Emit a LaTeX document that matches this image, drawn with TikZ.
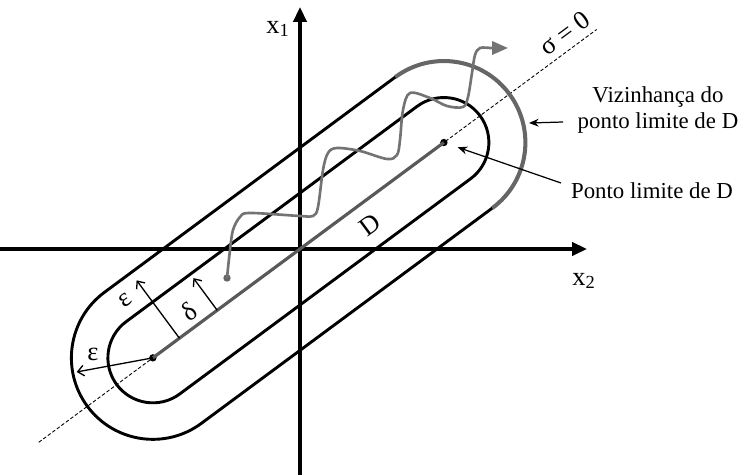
\documentclass[tikz,border=0pt]{standalone}
\usepackage{fontspec}
\setmainfont{Liberation Serif}
\usetikzlibrary{arrows.meta,calc}

\begin{document}
\begin{tikzpicture}[
    every node/.style={font=\fontsize{15}{17}\selectfont},
    axis/.style={line width=2pt, -{Triangle[length=8.5pt,width=7.5pt]}},
    band/.style={line width=1.65pt},
    nbhd/.style={line width=2.3pt, black!60},
    seg/.style={line width=1.8pt, black!65},
    traj/.style={line width=1.5pt, black!55, -{Triangle[length=9pt,width=7.5pt]}},
    dot/.style={circle, fill=#1, inner sep=0pt, minimum size=4.2pt},
    dot/.default=black,
    ptr/.style={-{Stealth[length=5.5pt,width=4.5pt]}, line width=0.7pt},
    dim/.style={-{Straight Barb[length=3.5pt,width=6pt]}, line width=0.75pt},
    lbl/.style={font=\fontsize{13}{14.5}\selectfont, align=center, inner sep=1pt},
]
\useasboundingbox (-6,-4.52) rectangle (8.88,4.98);
\coordinate (xl) at (-6,0);
\coordinate (xr) at (5.74,0);
\coordinate (yb) at (0,-4.52);
\coordinate (yt) at (0,4.84);
\draw[axis] (xl) -- (xr);
\draw[axis] (yb) -- (yt);
\node (x1lbl) at (-0.44,4.4) {x\textsubscript{1}};
\node (x2lbl) at (5.68,-0.64) {x\textsubscript{2}};
\begin{scope}[rotate=36.5]
\coordinate (sl) at (-6.5,0);
\coordinate (sr) at (7.38,0);
\draw[dash pattern=on 2pt off 1.2pt, line width=0.5pt] (sl) -- (sr);
\draw[band] (-3.66,-0.9) -- (3.58,-0.9) arc[start angle=-90, end angle=90, radius=0.9]
    -- (-3.66,0.9) arc[start angle=90, end angle=270, radius=0.9] -- cycle;
\draw[band] (3.58,1.63) -- (-3.66,1.63) arc[start angle=90, end angle=270, radius=1.63] -- (3.58,-1.63);
\draw[nbhd] (3.58,-1.63) arc[start angle=-90, end angle=90, radius=1.63];
\node[dot] (lft) at (-3.66,0) {};
\node[dot] (rgt) at (3.58,0) {};
\draw[seg] (lft.center) -- (rgt.center);
\coordinate (eps0) at (-3,0);
\coordinate (eps1) at (-3,1.44);
\coordinate (del0) at (-2.06,0);
\coordinate (del1) at (-2.06,0.8);
\draw[dim] (eps0) -- (eps1);
\draw[dim] (del0) -- (del1);
\draw[dim] (lft.center) -- ++(154:1.55) coordinate (eps2);
\node[rotate=36.5] (epslbl) at (-3.42,1.26) {ε};
\node[rotate=36.5] (dellbl) at (-2.53,0.31) {δ};
\node[rotate=36.5] (dlbl) at (1.41,-0.45) {D};
\node[rotate=36.5] (siglbl) at (6.83,0.32) {σ = 0};
\end{scope}
\node (eps2lbl) at (-4.14,-2.1) {ε};
\node[dot=black!60] (wstart) at (-1.46,-0.58) {};
\coordinate (wend) at (4.16,4.02);
\draw[traj] plot[smooth, tension=0.55] coordinates {(wstart.center) (-1.40,-0.02) (-1.34,0.38) (-1.20,0.64) (-1.00,0.72)
    (0,0.66) (0.26,0.66) (0.36,0.84) (0.46,1.58) (0.56,1.92) (0.74,2.02) (1.20,1.96) (1.74,1.80)
    (1.94,1.88) (2.00,2.18) (2.06,2.78) (2.20,3.12) (2.60,3.02) (2.94,2.86) (3.26,2.84) (3.36,3.04)
    (3.44,3.52) (3.50,3.88) (3.60,4.02) (3.80,4.02)} -- (wend);
\node[lbl] (viz) at (7.16,2.78) {Vizinhança do\\ponto limite de D};
\node[lbl] (plim) at (7.04,1.16) {Ponto limite de D};
\coordinate (vizend) at (4.58,2.52);
\draw[ptr] ([xshift=-0.25cm,yshift=-0.24cm]viz.west) -- (vizend);
\draw[ptr, shorten >=6pt] ([xshift=-0.16cm,yshift=0.16cm]plim.west) -- (rgt);
\end{tikzpicture}
\end{document}
